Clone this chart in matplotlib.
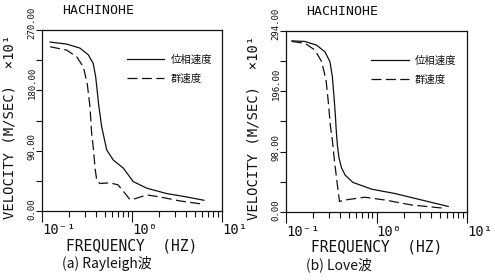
import matplotlib
matplotlib.use("Agg")
import matplotlib.pyplot as plt
from matplotlib.transforms import blended_transform_factory, ScaledTranslation

# ---------------- data (velocity in m/s x10) ----------------
ray_f_phase = [0.123, 0.188, 0.264, 0.327, 0.371, 0.395, 0.41, 0.425, 0.46, 0.524, 0.62, 0.80, 1.03, 1.46, 2.43, 4.05, 6.3]
ray_v_phase = [252, 249, 243, 233, 220, 200, 180, 160, 126, 91, 76, 64, 44, 34, 26, 21, 16]
ray_f_group = [0.123, 0.188, 0.243, 0.288, 0.318, 0.341, 0.356, 0.371, 0.39, 0.406, 0.44, 0.57, 0.70, 0.84, 0.95, 1.03, 1.46, 2.04, 3.4, 6.3]
ray_v_group = [245, 240, 230, 215, 190, 156, 116, 95, 62, 46, 41, 42, 39, 26, 17, 17.5, 24, 21, 15, 10]

love_f_phase = [0.116, 0.162, 0.218, 0.27, 0.306, 0.325, 0.338, 0.35, 0.36, 0.37, 0.385, 0.41, 0.45, 0.55, 0.89, 1.6, 3.15, 6.2]
love_v_phase = [278, 277, 271, 260, 244, 220, 190, 160, 130, 108, 88, 72, 60, 48, 37, 30, 19.5, 9]
love_f_group = [0.116, 0.162, 0.209, 0.248, 0.277, 0.292, 0.310, 0.325, 0.342, 0.364, 0.39, 0.45, 0.74, 1.24, 2.44, 5.7]
love_v_group = [277, 274, 263, 244, 214, 182, 139, 117, 85, 52, 17, 19.5, 24, 19.5, 11.4, 6]

ray_yticks = [0, 45, 90, 135, 180, 225, 270]
ray_ylabels = ["0.00", "90.00", "180.00", "270.00"]
ray_ylabel_vals = [0, 90, 180, 270]
love_yticks = [0, 49, 98, 147, 196, 245, 294]
love_ylabels = ["0.00", "98.00", "196.00", "294.00"]
love_ylabel_vals = [0, 98, 196, 294]

xticks = [0.1, 1, 10]
xticklabels = ["10\u207b\u00b9", "10\u2070", "10\u00b9"]
legend_labels = ["位相速度", "群速度"]
titles = ["HACHINOHE", "HACHINOHE"]
captions = ["(a) Rayleigh波", "(b) Love波"]

MONO = ["DejaVu Sans Mono", "DejaVu Sans"]
CJK = ["Noto Sans CJK JP", "DejaVu Sans"]
INK = "#111111"

fig = plt.figure(figsize=(4.95, 2.8), dpi=100)
fig.patch.set_facecolor("white")
axL = fig.add_axes([42/495, 1-211/280, 180/495, 181/280])
axR = fig.add_axes([286/495, 1-212/280, 181/495, 181/280])


def style(ax, fp, vp, fg, vg, yticks, ylab_vals, ylabs, title, caption):
    ax.plot(fp, vp, color=INK, lw=0.9, label=legend_labels[0])
    ax.plot(fg, vg, color=INK, lw=0.9, dashes=(8, 3.5), label=legend_labels[1])
    ax.set_xscale("log")
    ax.set_xlim(0.1, 10)
    ax.set_ylim(yticks[0], yticks[-1])
    for s in ax.spines.values():
        s.set_linewidth(0.9)
        s.set_color(INK)
    ax.set_yticks(yticks)
    ax.set_yticklabels([])
    ax.tick_params(axis="y", which="major", direction="out", length=4, width=0.8, color=INK)
    ax.set_xticks(xticks)
    ax.set_xticklabels(xticklabels, family=MONO, fontsize=10, ha="left", color=INK)
    ax.tick_params(axis="x", which="major", direction="out", length=8, width=0.8, pad=1, color=INK)
    ax.tick_params(axis="x", which="minor", direction="out", length=4, width=0.8, color=INK)
    ax.xaxis.set_minor_formatter(matplotlib.ticker.NullFormatter())
    # rotated y tick labels, starting slightly below each tick and running upward
    tr = blended_transform_factory(ax.transAxes, ax.transData) + \
        ScaledTranslation(-10/100, -9/100, fig.dpi_scale_trans)
    for v, s in zip(ylab_vals, ylabs):
        ax.text(0, v, s, transform=tr, rotation=90, ha="center", va="bottom",
                family=MONO, fontsize=6.5, color=INK)
    ax.set_ylabel("VELOCITY (M/SEC)  \u00d710\u00b9", family=MONO, fontsize=10, color=INK)
    ax.yaxis.set_label_coords(-0.14, 0.465)
    ax.set_xlabel("FREQUENCY  (HZ)", family=MONO, fontsize=10.5, color=INK, labelpad=1)
    ax.text(0.11, 1.105, title, transform=ax.transAxes, family=MONO, fontsize=9.5,
            color=INK, ha="left", va="center")
    ax.text(0.11, -0.29, caption, transform=ax.transAxes, family=CJK, fontsize=10,
            color=INK, ha="left", va="center")
    leg = ax.legend(loc="upper left", bbox_to_anchor=(0.47, 0.865), frameon=False,
                    prop={"family": CJK, "size": 7.5}, handlelength=3.6,
                    handletextpad=0.6, labelspacing=0.9, borderpad=0, borderaxespad=0)
    for t in leg.get_texts():
        t.set_color(INK)


style(axL, ray_f_phase, ray_v_phase, ray_f_group, ray_v_group,
      ray_yticks, ray_ylabel_vals, ray_ylabels, titles[0], captions[0])
style(axR, love_f_phase, love_v_phase, love_f_group, love_v_group,
      love_yticks, love_ylabel_vals, love_ylabels, titles[1], captions[1])

fig.savefig("out.png", dpi=100, facecolor="white")
